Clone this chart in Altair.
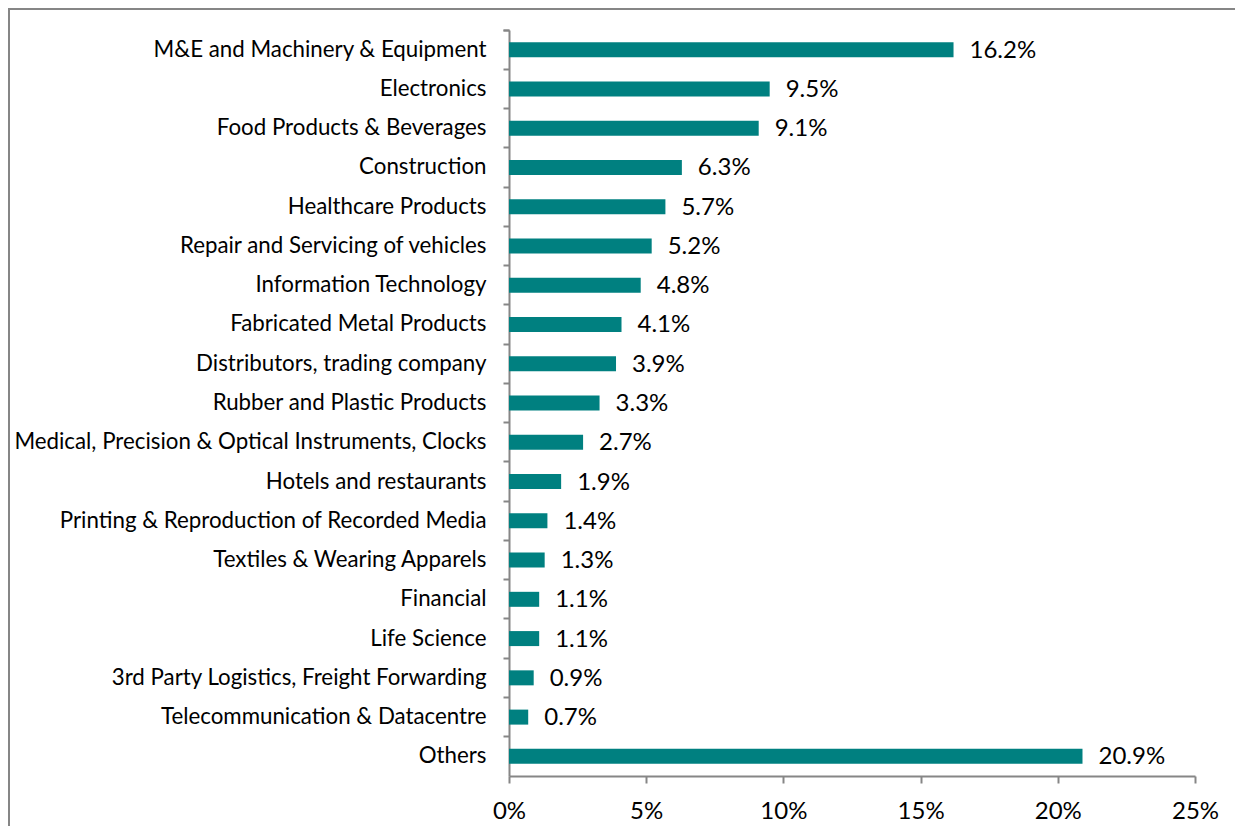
import altair as alt
import pandas as pd

categories = [
    "M&E and Machinery & Equipment",
    "Electronics",
    "Food Products & Beverages",
    "Construction",
    "Healthcare Products",
    "Repair and Servicing of vehicles",
    "Information Technology",
    "Fabricated Metal Products",
    "Distributors, trading company",
    "Rubber and Plastic Products",
    "Medical, Precision & Optical Instruments, Clocks",
    "Hotels and restaurants",
    "Printing & Reproduction of Recorded Media",
    "Textiles & Wearing Apparels",
    "Financial",
    "Life Science",
    "3rd Party Logistics, Freight Forwarding",
    "Telecommunication & Datacentre",
    "Others",
]
values = [16.2, 9.5, 9.1, 6.3, 5.7, 5.2, 4.8, 4.1, 3.9, 3.3, 2.7, 1.9, 1.4, 1.3, 1.1, 1.1, 0.9, 0.7, 20.9]
x_ticks = [0, 5, 10, 15, 20, 25]

df = pd.DataFrame({"category": categories, "value": values})
df["label"] = [f"{v:.1f}%" for v in values]

FONT = "Lato"
W, H = 686, 746

y_enc = alt.Y(
    "category:N",
    sort=None,
    title=None,
    scale=alt.Scale(paddingInner=0, paddingOuter=0),
    axis=alt.Axis(
        bandPosition=0,
        tickExtra=True,
        tickSize=6,
        tickColor="#868686",
        domainColor="#868686",
        domainWidth=2,
        tickWidth=2,
        labelFont=FONT,
        labelFontSize=22.3,
        labelColor="#000000",
        labelPadding=17,
        labelLimit=600,
        grid=False,
    ),
)
x_enc = alt.X(
    "value:Q",
    title=None,
    scale=alt.Scale(domain=[0, 25], nice=False),
    axis=alt.Axis(
        values=x_ticks,
        labelExpr="datum.value + '%'",
        labelFlush=False,
        tickSize=7,
        tickColor="#868686",
        domainColor="#868686",
        domainWidth=2,
        tickWidth=2,
        labelFont=FONT,
        labelFontSize=24,
        labelColor="#000000",
        labelPadding=16,
        grid=False,
    ),
)

base = alt.Chart(df)

bars = base.mark_bar(size=15, color="#008080").encode(x=x_enc, y=y_enc)
labels = base.mark_text(
    align="left", baseline="middle", dx=16, dy=1, font=FONT, fontSize=24, color="#000000"
).encode(x="value:Q", y=alt.Y("category:N", sort=None), text="label:N")

frame = alt.Chart(pd.DataFrame({"k": [0]})).mark_rect(
    fill=None, stroke="#868686", strokeWidth=2
).encode(
    x=alt.value(-500), x2=alt.value(W + 200), y=alt.value(-21), y2=alt.value(H + 200)
)

chart = (
    alt.layer(frame, bars, labels)
    .properties(
        width=W,
        height=H,
        autosize=alt.AutoSizeParams(type="none"),
        padding={"left": 501, "top": 22, "right": 40, "bottom": 50},
    )
    .configure_view(stroke=None)
)

chart.save("out.html", embed_options={"renderer": "svg", "actions": False})
